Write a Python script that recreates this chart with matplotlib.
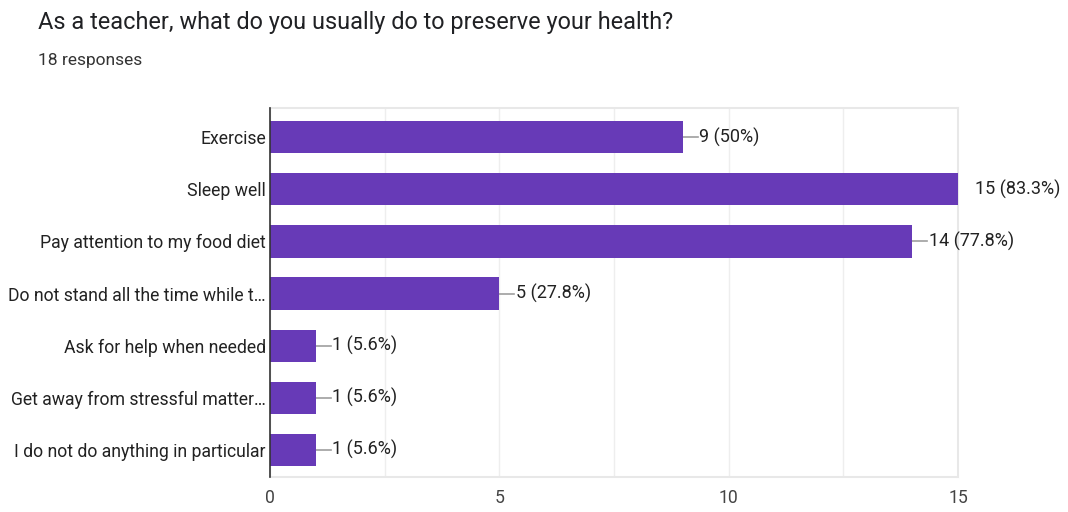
import matplotlib.pyplot as plt
import numpy as np

plt.rcParams['font.family'] = ['Roboto', 'DejaVu Sans']

title = "As a teacher, what do you usually do to preserve your health?"
subtitle = "18 responses"
categories = ["Exercise", "Sleep well", "Pay attention to my food diet",
              "Do not stand all the time while t\u2026", "Ask for help when needed",
              "Get away from stressful matter\u2026", "I do not do anything in particular"]
counts = [9, 15, 14, 5, 1, 1, 1]
percents = ["50%", "83.3%", "77.8%", "27.8%", "5.6%", "5.6%", "5.6%"]

fig = plt.figure(figsize=(10.68, 5.12), dpi=100)
ax = fig.add_axes([0.2528, 0.0684, 0.6442, 0.7206])

y = np.arange(len(categories))
ax.barh(y, counts, height=0.62, color='#673ab7', zorder=3)

for yi, c, p in zip(y, counts, percents):
    ax.plot([c, c + 0.33], [yi, yi], color='#9e9e9e', lw=1.2, zorder=2)
    ax.text(c + 0.36, yi, f"{c} ({p})", va='center', ha='left', fontsize=13,
            color='#222222', clip_on=False)

ax.set_xlim(0, 15)
ax.set_ylim(len(categories) - 0.48, -0.56)
ax.set_yticks(y)
ax.set_yticklabels(categories, fontsize=12.7, color='#222222')
ax.set_xticks([0, 5, 10, 15])
ax.set_xticks([2.5, 7.5, 12.5], minor=True)
ax.tick_params(axis='x', which='both', length=0, labelsize=12.7, labelcolor='#444444', pad=9)
ax.tick_params(axis='y', length=0, pad=3)
ax.grid(axis='x', which='both', color='#eeeeee', lw=1, zorder=0)

for s in ['top', 'right', 'bottom']:
    ax.spines[s].set_color('#e8e8e8')
    ax.spines[s].set_linewidth(1.5)
ax.spines['left'].set_color('#333333')
ax.spines['left'].set_linewidth(1.2)
ax.spines['left'].set_zorder(4)

fig.text(38 / 1068, 1 - 23 / 512, title, fontsize=16.9, color='#202124', va='center', ha='left')
fig.text(38 / 1068, 1 - 61 / 512, subtitle, fontsize=12.5, color='#333333', va='center', ha='left')

fig.savefig('out.png', dpi=100, facecolor='white')
